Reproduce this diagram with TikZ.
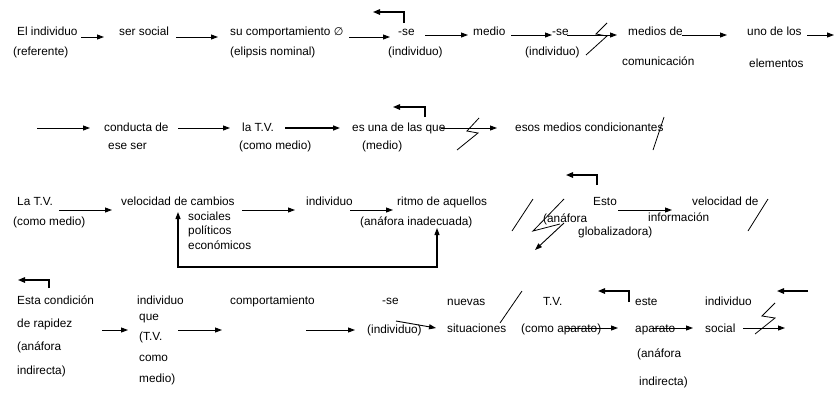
\documentclass[tikz,border=0pt]{standalone}
\usepackage{fontspec}
\setmainfont{Liberation Sans}
\newfontfamily\djv{DejaVu Sans}
\usetikzlibrary{arrows.meta}
\begin{document}
\begin{tikzpicture}[x=1pt,y=-1pt,
  lbl/.style={anchor=west,inner sep=0pt,font=\fontsize{11.8}{13}\selectfont,text height=8.5pt,text depth=2.6pt},
  arr/.style={-{Triangle[length=7pt,width=5pt]},line width=0.9pt},
  thickarr/.style={-{Triangle[length=7pt,width=5pt]},line width=1.3pt},
  backarr/.style={-{Triangle[length=7pt,width=5.5pt]},line width=1.4pt},
  cut/.style={line width=0.8pt}]
\useasboundingbox (0,0) rectangle (835,416);
% ---------- row 1 ----------
\node[lbl] (t1) at (17,33) {El individuo};
\node[lbl] (t1b) at (13,53) {(referente)};
\node[lbl] (t2) at (119,33) {ser social};
\node[lbl] (t3) at (230,33) {su comportamiento {\djv\fontsize{11}{12}\selectfont ∅}};
\node[lbl] (t3b) at (230,53) {(elipsis nominal)};
\node[lbl] (t4) at (398,33) {-se};
\node[lbl] (t4b) at (388,53) {(individuo)};
\node[lbl] (t5) at (473,33) {medio};
\node[lbl] (t6) at (552,33) {-se};
\node[lbl] (t6b) at (525,53) {(individuo)};
\node[lbl] (t7) at (628,33) {medios de};
\node[lbl] (t7b) at (622,63) {comunicación};
\node[lbl] (t8) at (747,33) {uno de los};
\node[lbl] (t8b) at (749,65) {elementos};
\draw[arr] (81,37) coordinate (a1s) -- (104,37) coordinate (a1e);
\draw[arr] (176,37) coordinate (a2s) -- (218,37) coordinate (a2e);
\draw[arr] (349,37) coordinate (a3s) -- (390,37) coordinate (a3e);
\draw[backarr] (404,23) coordinate (b1s) -- (404,12) -- (373,12) coordinate (b1e);
\draw[arr] (425,35) coordinate (a4s) -- (468,35) coordinate (a4e);
\draw[arr] (511,35) coordinate (a5s) -- (552,35) coordinate (a5e);
\draw[arr] (567,35) coordinate (a6s) -- (617,35) coordinate (a6e);
\draw[cut] (607,23) -- (596,34) -- (607,36) -- (586,55);
\draw[arr] (682,35) coordinate (a7s) -- (727,35) coordinate (a7e);
\draw[arr] (807,35) coordinate (a8s) -- (834,35) coordinate (a8e);
% ---------- row 2 ----------
\draw[arr] (37,128) coordinate (a9s) -- (90,128) coordinate (a9e);
\node[lbl] (t9) at (104,129) {conducta de};
\node[lbl] (t9b) at (108,147) {ese ser};
\draw[arr] (178,128) coordinate (a10s) -- (230,128) coordinate (a10e);
\node[lbl] (t10) at (242,129) {la T.V.};
\node[lbl] (t10b) at (239,147) {(como medio)};
\draw[thickarr] (285,128) coordinate (a11s) -- (340,128) coordinate (a11e);
\node[lbl] (t11) at (352,129) {es una de las que};
\node[lbl] (t11b) at (362,147) {(medio)};
\draw[backarr] (425,117) coordinate (b2s) -- (425,107) -- (393,107) coordinate (b2e);
\draw[arr] (441,128) coordinate (a12s) -- (497,128) coordinate (a12e);
\draw[cut] (479,118) -- (467,131) -- (478,133) -- (457,150);
\node[lbl] (t12) at (515,129) {esos medios condicionantes};
\draw[cut] (664,117) -- (653,150);
% ---------- row 3 ----------
\node[lbl] (t13) at (17,203) {La T.V.};
\node[lbl] (t13b) at (13,223) {(como medio)};
\draw[arr] (59,210) coordinate (a13s) -- (112,210) coordinate (a13e);
\node[lbl] (t14) at (121,203) {velocidad de cambios};
\node[lbl] (t14b) at (188,218) {sociales};
\node[lbl] (t14c) at (188,232) {políticos};
\node[lbl] (t14d) at (188,247) {económicos};
\draw[arr] (242,210) coordinate (a14s) -- (295,210) coordinate (a14e);
\node[lbl] (t15) at (306,203) {individuo};
\draw[arr] (350,210) coordinate (a15s) -- (393,210) coordinate (a15e);
\node[lbl] (t16) at (397,203) {ritmo de aquellos};
\node[lbl] (t16b) at (360,223) {(anáfora inadecuada)};
\draw[{Triangle[length=7pt,width=5pt]}-{Triangle[length=7pt,width=5pt]},line width=1.1pt]
  (178,212) coordinate (f1) -- (178,267) -- (437,267) -- (437,228) coordinate (f2);
\draw[cut] (533,199) -- (512,231);
\draw[cut] (564,199) -- (533,231) -- (560,224);
\draw[arr] (564,223) coordinate (a16s) -- (535,250) coordinate (a16e);
\draw[backarr] (597,185) coordinate (b3s) -- (597,175) -- (566,175) coordinate (b3e);
\node[lbl] (t17) at (593,203) {Esto};
\node[lbl] (t17b) at (543,220) {(anáfora};
\node[lbl] (t17c) at (578,233) {globalizadora)};
\draw[arr] (618,210) coordinate (a17s) -- (672,210) coordinate (a17e);
\node[lbl] (t18) at (692,203) {velocidad de};
\node[lbl] (t18b) at (648,219) {información};
\draw[cut] (768,199) -- (748,231);
% ---------- row 4 ----------
\draw[backarr] (49,288) coordinate (b4s) -- (49,280) -- (18,280) coordinate (b4e);
\node[lbl] (t19) at (17,302) {Esta condición};
\node[lbl] (t19b) at (17,325) {de rapidez};
\node[lbl] (t19c) at (17,348) {(anáfora};
\node[lbl] (t19d) at (17,372) {indirecta)};
\draw[arr] (102,330) coordinate (a18s) -- (128,330) coordinate (a18e);
\node[lbl] (t20) at (137,302) {individuo};
\node[lbl] (t20b) at (139,318) {que};
\node[lbl] (t20c) at (139,338) {(T.V.};
\node[lbl] (t20d) at (139,359) {como};
\node[lbl] (t20e) at (139,380) {medio)};
\draw[arr] (178,330) coordinate (a19s) -- (222,330) coordinate (a19e);
\node[lbl] (t21) at (230,302) {comportamiento};
\draw[arr] (306,330) coordinate (a20s) -- (355,330) coordinate (a20e);
\node[lbl] (t22) at (382,302) {-se};
\node[lbl] (t22b) at (367,331) {(individuo)};
\draw[arr] (396,321) coordinate (a21s) -- (436,328) coordinate (a21e);
\node[lbl] (t23) at (447,303) {nuevas};
\node[lbl] (t23b) at (447,330) {situaciones};
\draw[cut] (522,291) -- (500,323);
\node[lbl] (t24) at (543,303) {T.V.};
\node[lbl] (t24b) at (521,330) {(como aparato)};
\draw[arr] (565,328) coordinate (a22s) -- (618,328) coordinate (a22e);
\draw[backarr] (629,302) coordinate (b5s) -- (629,291) -- (598,291) coordinate (b5e);
\node[lbl] (t25) at (635,303) {este};
\node[lbl] (t25b) at (635,330) {aparato};
\node[lbl] (t25c) at (637,355) {(anáfora};
\node[lbl] (t25d) at (639,383) {indirecta)};
\draw[arr] (652,328) coordinate (a23s) -- (693,328) coordinate (a23e);
\node[lbl] (t26) at (705,303) {individuo};
\node[lbl] (t26b) at (705,330) {social};
\draw[arr] (743,328) coordinate (a24s) -- (785,328) coordinate (a24e);
\draw[cut] (775,303) -- (762,316) -- (775,318) -- (755,334);
\draw[backarr] (808,291) coordinate (b6s) -- (777,291) coordinate (b6e);
\end{tikzpicture}
\end{document}
